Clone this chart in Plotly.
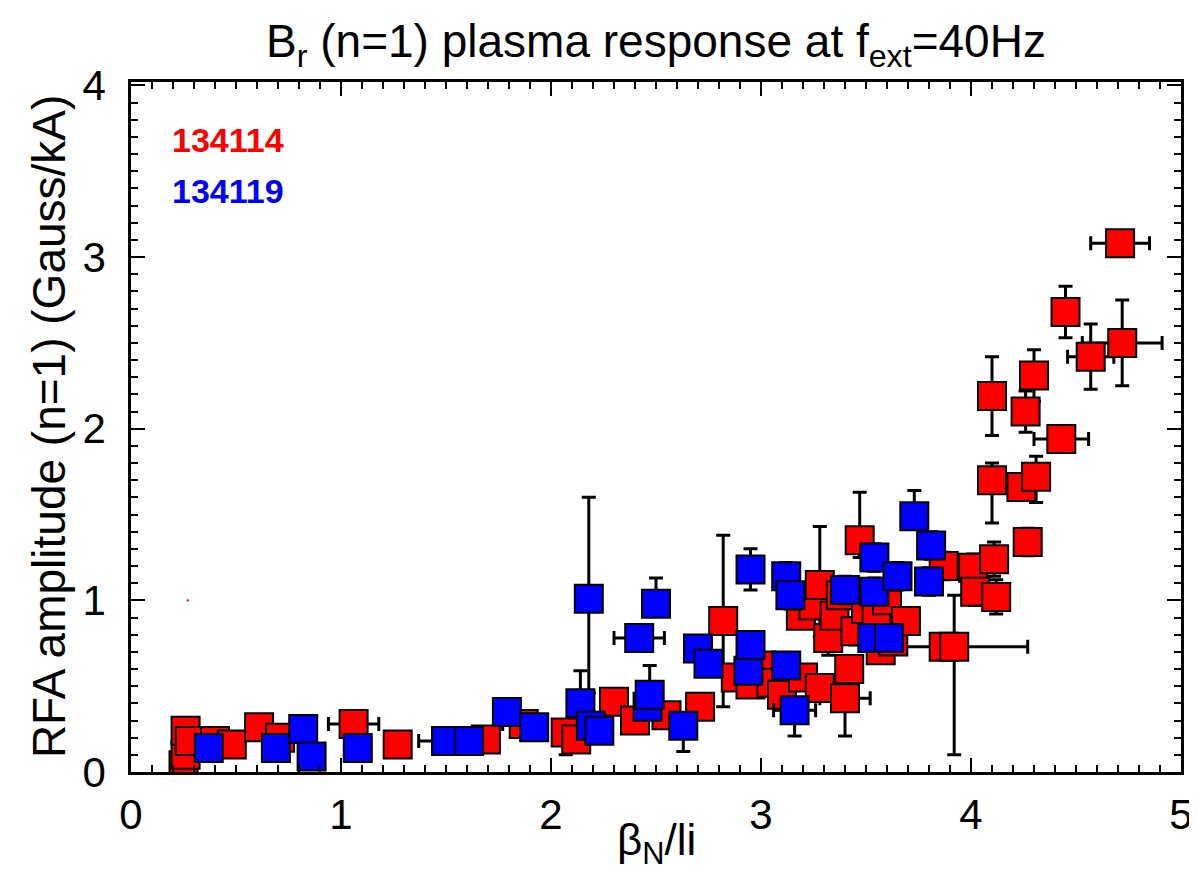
import plotly.graph_objects as go

# ---- data: shot 134114 (red) ----
red_x = [0.25, 0.26, 0.26, 0.28, 0.40, 0.48, 0.61, 0.71, 1.06, 1.27, 1.69, 1.87, 2.07, 2.12,
         2.30, 2.40, 2.55, 2.71, 2.82, 2.88, 2.95, 3.00, 3.05, 3.10, 3.19, 3.20, 3.25, 3.28,
         3.28, 3.32, 3.35, 3.38, 3.40, 3.42, 3.45, 3.47, 3.50, 3.55, 3.57, 3.60, 3.63, 3.69,
         3.87, 3.87, 3.92, 4.01, 4.02, 4.11, 4.12, 4.27, 4.10, 4.24, 4.31, 4.10, 4.26, 4.30,
         4.43, 4.45, 4.57, 4.72, 4.71]
red_y = [0.04, 0.10, 0.24, 0.18, 0.18, 0.16, 0.26, 0.20, 0.28, 0.16, 0.19, 0.28, 0.23, 0.19,
         0.41, 0.30, 0.33, 0.38, 0.88, 0.55, 0.51, 0.62, 0.52, 0.45, 0.91, 0.55, 0.97, 0.49,
         1.09, 0.78, 0.91, 1.03, 0.43, 0.60, 0.82, 1.35, 0.95, 0.90, 0.71, 1.00, 0.76, 0.88,
         0.73, 1.20, 0.73, 1.19, 1.05, 1.24, 1.02, 1.34, 1.70, 1.66, 1.72, 2.19, 2.10, 2.31,
         1.94, 2.68, 2.42, 2.50, 3.08]
red_ex = [0.03, 0.03, 0.03, 0.02, 0.04, 0.03, 0.03, 0.03, 0.12, 0.03, 0.05, 0.10, 0.03, 0.03,
          0.03, 0.03, 0.03, 0.04, 0.05, 0.04, 0.04, 0.04, 0.04, 0.04, 0.05, 0.04, 0.05, 0.04,
          0.05, 0.05, 0.05, 0.05, 0.12, 0.05, 0.05, 0.06, 0.05, 0.05, 0.05, 0.05, 0.05, 0.06,
          0.05, 0.05, 0.35, 0.05, 0.04, 0.05, 0.04, 0.05, 0.03, 0.04, 0.04, 0.03, 0.04, 0.04,
          0.13, 0.03, 0.11, 0.19, 0.14]
red_ey_up = [0.04, 0.05, 0.03, 0.04, 0.02, 0.02, 0.02, 0.02, 0.02, 0.02, 0.03, 0.03, 0.04, 0.03,
             0.03, 0.03, 0.03, 0.04, 0.50, 0.04, 0.05, 0.05, 0.05, 0.05, 0.06, 0.05, 0.06, 0.05,
             0.34, 0.10, 0.10, 0.08, 0.05, 0.05, 0.08, 0.28, 0.08, 0.08, 0.05, 0.06, 0.05, 0.05,
             0.05, 0.08, 0.30, 0.08, 0.08, 0.10, 0.10, 0.08, 0.10, 0.06, 0.12, 0.23, 0.12, 0.15,
             0.05, 0.15, 0.19, 0.25, 0.06]
red_ey_down = [0.04, 0.05, 0.03, 0.04, 0.02, 0.02, 0.02, 0.02, 0.02, 0.02, 0.03, 0.03, 0.13, 0.03,
               0.03, 0.03, 0.03, 0.04, 0.50, 0.04, 0.05, 0.05, 0.05, 0.05, 0.06, 0.05, 0.06, 0.05,
               0.30, 0.10, 0.10, 0.08, 0.22, 0.05, 0.08, 0.10, 0.08, 0.08, 0.05, 0.06, 0.05, 0.05,
               0.05, 0.08, 0.63, 0.08, 0.08, 0.10, 0.10, 0.08, 0.25, 0.06, 0.15, 0.23, 0.12, 0.15,
               0.05, 0.15, 0.19, 0.25, 0.06]

# ---- data: shot 134119 (blue) ----
blue_x = [0.37, 0.69, 0.82, 0.86, 1.08, 1.50, 1.61, 1.79, 1.92, 2.14, 2.18, 2.19, 2.23, 2.42,
          2.46, 2.47, 2.50, 2.63, 2.70, 2.75, 2.94, 2.95, 2.95, 3.12, 3.12, 3.14, 3.16, 3.40,
          3.53, 3.54, 3.54, 3.61, 3.65, 3.73, 3.80, 3.81]
blue_y = [0.14, 0.14, 0.25, 0.09, 0.14, 0.18, 0.18, 0.35, 0.26, 0.40, 1.01, 0.27, 0.24, 0.78,
          0.38, 0.45, 0.98, 0.27, 0.72, 0.63, 0.59, 0.74, 1.18, 0.62, 1.14, 1.03, 0.36, 1.06,
          0.78, 1.05, 1.25, 0.78, 1.14, 1.49, 1.11, 1.32]
blue_ex = [0.03, 0.03, 0.03, 0.03, 0.06, 0.13, 0.04, 0.04, 0.04, 0.04, 0.05, 0.04, 0.04, 0.12,
           0.04, 0.04, 0.05, 0.04, 0.04, 0.04, 0.04, 0.04, 0.04, 0.04, 0.04, 0.04, 0.10, 0.05,
           0.05, 0.05, 0.05, 0.05, 0.05, 0.05, 0.05, 0.05]
blue_ey_up = [0.03, 0.03, 0.03, 0.03, 0.03, 0.03, 0.03, 0.04, 0.04, 0.19, 0.59, 0.04, 0.04, 0.04,
              0.04, 0.17, 0.15, 0.04, 0.04, 0.04, 0.05, 0.05, 0.12, 0.05, 0.08, 0.08, 0.05, 0.08,
              0.05, 0.08, 0.08, 0.05, 0.08, 0.15, 0.08, 0.08]
blue_ey_down = [0.03, 0.03, 0.03, 0.03, 0.03, 0.03, 0.03, 0.04, 0.04, 0.04, 0.55, 0.04, 0.04, 0.04,
                0.04, 0.04, 0.05, 0.15, 0.04, 0.04, 0.05, 0.05, 0.12, 0.05, 0.08, 0.08, 0.15, 0.08,
                0.05, 0.08, 0.08, 0.05, 0.08, 0.05, 0.08, 0.08]

stray_x = [0.27]
stray_y = [1.00]

x_ticks = [0, 1, 2, 3, 4, 5]
y_ticks = [0, 1, 2, 3, 4]

FONT = "Liberation Sans, Arial, Helvetica, sans-serif"


def err(arr, arrm=None):
    d = dict(type="data", array=arr, color="black", thickness=3, width=7, visible=True)
    if arrm is not None:
        d["symmetric"] = False
        d["arrayminus"] = arrm
    return d


fig = go.Figure()
fig.add_trace(go.Scatter(
    x=red_x, y=red_y, mode="markers", name="134114",
    marker=dict(symbol="square", size=28, color="#ff0000", line=dict(color="black", width=2)),
    error_x=err(red_ex), error_y=err(red_ey_up, red_ey_down),
))
fig.add_trace(go.Scatter(
    x=blue_x, y=blue_y, mode="markers", name="134119",
    marker=dict(symbol="square", size=28, color="#0000ff", line=dict(color="black", width=2)),
    error_x=err(blue_ex), error_y=err(blue_ey_up, blue_ey_down),
))
fig.add_trace(go.Scatter(
    x=stray_x, y=stray_y, mode="markers",
    marker=dict(symbol="square", size=2, color="#ff0000", line=dict(width=0)),
))

axis_common = dict(
    showline=True, linecolor="black", linewidth=2.5, mirror="allticks",
    ticks="inside", ticklen=14, tickwidth=2, tickcolor="black",
    showgrid=False, zeroline=False,
    tickfont=dict(family=FONT, size=42, color="black"),
    minor=dict(ticks="inside", ticklen=7, tickwidth=2, tickcolor="black", dtick=0.1, showgrid=False),
)

fig.update_layout(
    width=1197, height=877,
    margin=dict(l=123, r=13, t=74, b=113),
    paper_bgcolor="white", plot_bgcolor="white",
    showlegend=False,
    title=dict(
        text="B<sub>r</sub> (n=1) plasma response at f<sub>ext</sub>=40Hz",
        font=dict(family=FONT, size=46, color="black"),
        x=0.5, xref="paper", xanchor="center",
        y=0.962, yref="container", yanchor="middle",
    ),
    xaxis=dict(
        range=[0, 5], tickvals=x_ticks, ticktext=[str(v) for v in x_ticks],
        ticklabelstandoff=4,
        **axis_common,
    ),
    yaxis=dict(
        range=[0, 4.02], tickvals=y_ticks, ticktext=[str(v) for v in y_ticks],
        ticklabelstandoff=14,
        **axis_common,
    ),
    annotations=[
        dict(text="β<sub>N</sub>/li", x=0.5, y=-0.103, xref="paper", yref="paper",
             xanchor="center", yanchor="middle", showarrow=False,
             font=dict(family=FONT, size=44, color="black")),
        dict(text="RFA amplitude (n=1) (Gauss/kA)", x=-0.078, y=0.5, xref="paper", yref="paper",
             xanchor="center", yanchor="middle", showarrow=False, textangle=-90,
             font=dict(family=FONT, size=46, color="black")),
        dict(text="<b>134114</b>", x=0.037, y=0.916, xref="paper", yref="paper",
             xanchor="left", yanchor="middle", showarrow=False,
             font=dict(family=FONT, size=34, color="#ff0000")),
        dict(text="<b>134119</b>", x=0.037, y=0.842, xref="paper", yref="paper",
             xanchor="left", yanchor="middle", showarrow=False,
             font=dict(family=FONT, size=34, color="#0000ff")),
    ],
)

fig.write_html("out.html")
